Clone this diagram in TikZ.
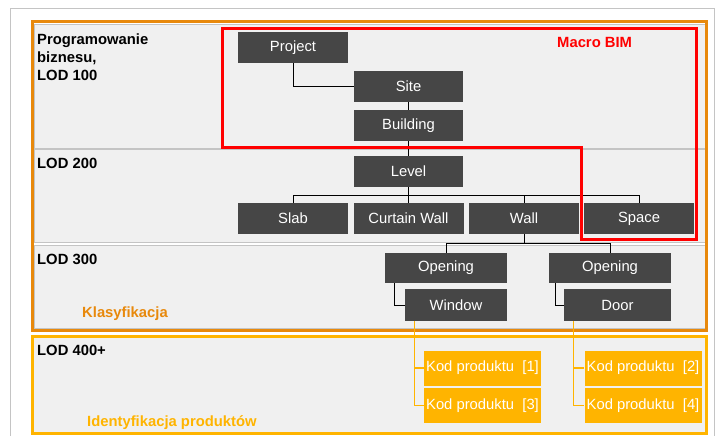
\documentclass[tikz,border=0pt]{standalone}
\usepackage{fontspec}
\setmainfont{Liberation Sans}
\definecolor{boxdark}{HTML}{464646}
\definecolor{bandgray}{HTML}{F0F0F0}
\definecolor{bandline}{HTML}{C4C4C4}
\definecolor{frameorange}{HTML}{E8890C}
\definecolor{frameyellow}{HTML}{FFB400}
\definecolor{macrored}{HTML}{FF0000}
\newcommand\colorEntity{boxdark}
\newcommand\colorProduct{frameyellow}
\newcommand\bandLeft{34}
\newcommand\bandRight{705}
\newcommand\labelFont{\bfseries\fontsize{14.8}{18}\selectfont}
\newcommand\boxFont{\fontsize{14.8}{17}\selectfont}
\tikzset{
	entity/.style={fill=\colorEntity, text=white, inner sep=0pt, minimum width=110pt, minimum height=31pt, font=\boxFont},
	product/.style={fill=\colorProduct, text=white, inner sep=0pt, minimum width=117pt, minimum height=35pt, font=\boxFont},
	lodlabel/.style={anchor=base west, inner sep=0pt, font=\labelFont},
	band/.style={fill=bandgray, draw=bandline, line width=0.8pt},
	link/.style={draw=black, line width=1pt},
	prodlink/.style={draw=\colorProduct, line width=1.3pt},
}

\begin{document}
\begin{tikzpicture}[x=1pt, y=-1pt]
	
	\useasboundingbox (0,0) rectangle (727,436);
	
	\draw[bandline, line width=0.8pt] (10,436) -- (10,8) -- (714,8) -- (714,436);
	
	\foreach \top/\bottom in {24/148, 149/242, 245/328}{
		\draw[band] (\bandLeft,\top) rectangle (\bandRight,\bottom);
	}
	\draw[frameorange, line width=3pt] (32,22) rectangle (706,330);
	\draw[fill=bandgray, draw=frameyellow, line width=3pt] (32,336) rectangle (706,433);
	
	\node[lodlabel, anchor=north west, align=left] (lod100) at (37,33.4) {Programowanie\\biznesu,\\LOD 100};
	\node[lodlabel] (lod200) at (37,168) {LOD 200};
	\node[lodlabel] (lod300) at (37,264) {LOD 300};
	\node[lodlabel] (lod400) at (37,355) {LOD 400+};
	\node[lodlabel, text=frameorange] (klasyfikacja) at (82,317) {Klasyfikacja};
	\node[lodlabel, text=frameyellow] (identyfikacja) at (87,426) {Identyfikacja produktów};
	
	\node[entity] (project) at (293,47.5) {Project};
	\node[entity, minimum width=109pt] (site) at (408.5,86.5) {Site};
	\node[entity, minimum width=109pt] (building) at (408.5,125.5) {Building};
	\node[entity, minimum width=109pt] (level) at (408.5,171.5) {Level};
	\foreach \name/\x/\txt in {slab/293/Slab, curtain/408.5/Curtain Wall, wall/524/Wall, space/639/Space}{
		\node[entity] (\name) at (\x,218.5) {\txt};
	}
	\node[entity, minimum width=122pt, minimum height=30pt] (opening1) at (446,268) {Opening};
	\node[entity, minimum width=122pt, minimum height=30pt] (opening2) at (610,268) {Opening};
	\node[entity, minimum width=102pt, minimum height=32pt] (window) at (456,305) {Window};
	\node[entity, minimum width=107pt, minimum height=32pt] (door) at (617.5,305) {Door};
	\foreach \n/\x/\y in {1/482.5/368, 2/643/368, 3/482.5/405.5, 4/643/405.5}{
		\node[product] (kod\n) at (\x,\y) {Kod produktu\ \ [\n]};
	}
	
	\draw[link] (project.south) |- (site.west);
	\draw[link] (site) -- (building);
	\draw[link] (building) -- (level);
	\foreach \child in {slab,curtain,wall,space}{
		\draw[link] (level.south) -- ++(0,8) -| (\child.north);
	}
	\foreach \child in {opening1,opening2}{
		\draw[link] (wall.south) -- ++(0,9) -| (\child.north);
	}
	\draw[link] ([xshift=10pt]opening1.south west) |- (window.west);
	\draw[link] ([xshift=7pt]opening2.south west) |- (door.west);
	\foreach \kod in {kod1,kod3}{
		\draw[prodlink] ([xshift=10pt]window.south west) |- (\kod.west);
	}
	\foreach \kod in {kod2,kod4}{
		\draw[prodlink] ([xshift=10pt]door.south west) |- (\kod.west);
	}
	
	\draw[macrored, line width=3pt] (222,29) -- (696,29) -- (696,239) -- (581,239) -- (581,147) -- (222,147) -- cycle;
	\node[lodlabel, text=macrored] (macrobim) at (557,48) {Macro BIM};
\end{tikzpicture}
\end{document}
